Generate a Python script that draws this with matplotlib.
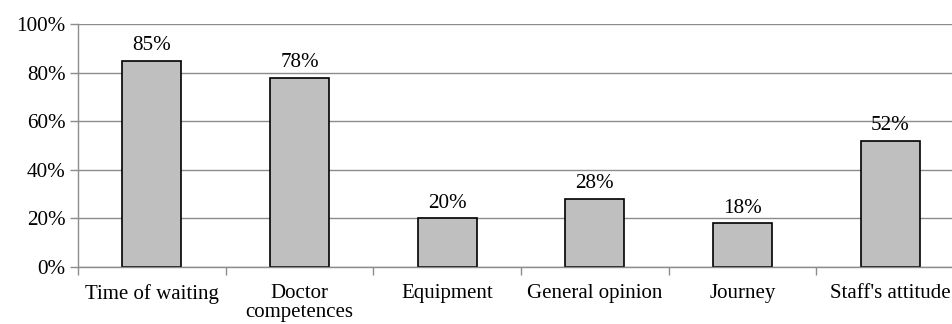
import matplotlib.pyplot as plt
import numpy as np

plt.rcParams['font.family'] = ['Liberation Serif', 'DejaVu Serif']

categories = ["Time of waiting", "Doctor\ncompetences", "Equipment",
              "General opinion", "Journey", "Staff's attitude"]
values = [85, 78, 20, 28, 18, 52]
yticks = [0, 20, 40, 60, 80, 100]

fig = plt.figure(figsize=(9.53, 3.24), dpi=100)
ax = fig.add_axes([78 / 953, 57.3 / 324, 886 / 953, 242.4 / 324])

x = np.arange(len(categories))
bars = ax.bar(x, values, width=0.40, color='#bfbfbf', edgecolor='black',
              linewidth=1.2, zorder=2)

for xi, v in zip(x, values):
    ax.annotate(f"{v}%", (xi, v), xytext=(0, 4), textcoords='offset points',
                ha='center', va='bottom', fontsize=15.2)

ax.set_xlim(-0.5, len(categories) - 0.5)
ax.set_ylim(0, 100)
ax.set_yticks(yticks)
ax.set_yticklabels([f"{t}%" for t in yticks], fontsize=15.2)
ax.yaxis.grid(True, color='#8c8c8c', linewidth=1.0, zorder=0)

# category names centred, tick marks on the boundaries
ax.set_xticks(x)
ax.set_xticklabels(categories, fontsize=15, linespacing=1.0)
ax.tick_params(axis='x', which='major', length=0, pad=12.5)
ax.set_xticks(np.arange(len(categories) + 1) - 0.5, minor=True)
ax.tick_params(axis='x', which='minor', length=6, color='#8c8c8c', width=1.0)
ax.tick_params(axis='y', length=6, color='#8c8c8c', width=1.0, pad=3)

for s in ['top', 'right']:
    ax.spines[s].set_visible(False)
for s in ['left', 'bottom']:
    ax.spines[s].set_color('#8c8c8c')
    ax.spines[s].set_linewidth(1.0)
    ax.spines[s].set_zorder(3)

fig.savefig('out.png', dpi=100)
